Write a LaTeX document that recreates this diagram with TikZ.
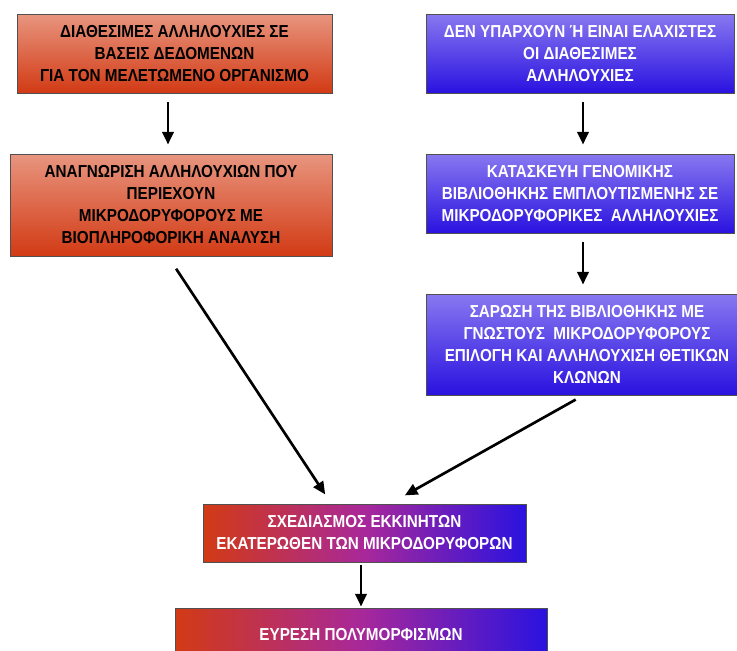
\documentclass[tikz,border=0pt]{standalone}
\usepackage{fontspec}
\setmainfont{Liberation Sans}[FakeStretch=0.88]
\usetikzlibrary{arrows.meta,calc}
\definecolor{redtop}{HTML}{E8957F}
\definecolor{redbot}{HTML}{D23A14}
\definecolor{bluetop}{HTML}{8878F0}
\definecolor{bluebot}{HTML}{2A12E0}
\definecolor{midmag}{HTML}{A8289A}
\definecolor{rimgray}{HTML}{505050}
\tikzset{
  box/.style={draw=rimgray, line width=0.7pt, align=center, inner sep=0pt,
    font=\fontsize{13}{16.5}\selectfont\bfseries},
  redbox/.style={box, top color=redtop, bottom color=redbot, text=black},
  bluebox/.style={box, top color=bluetop, bottom color=bluebot, text=white},
  mixbox/.style={box, left color=redbot, right color=bluebot, middle color=midmag, text=white},
  arr/.style={line width=2pt, -{Triangle[length=9.5pt,width=8.5pt]}}
}
\begin{document}
\begin{tikzpicture}[x=0.75pt,y=-0.75pt]
\useasboundingbox (0,0) rectangle (737,650);
\node[redbox, minimum width=315*0.75pt, minimum height=79*0.75pt] (b1) at (174.5,53.5)
  {ΔΙΑΘΕΣΙΜΕΣ ΑΛΛΗΛΟΥΧΙΕΣ ΣΕ\\ΒΑΣΕΙΣ ΔΕΔΟΜΕΝΩΝ\\ΓΙΑ ΤΟΝ ΜΕΛΕΤΩΜΕΝΟ ΟΡΓΑΝΙΣΜΟ};
\node[redbox, minimum width=322*0.75pt, minimum height=102*0.75pt] (b2) at (171,205)
  {ΑΝΑΓΝΩΡΙΣΗ ΑΛΛΗΛΟΥΧΙΩΝ ΠΟΥ\\ΠΕΡΙΕΧΟΥΝ\\ΜΙΚΡΟΔΟΡΥΦΟΡΟΥΣ ΜΕ\\ΒΙΟΠΛΗΡΟΦΟΡΙΚΗ ΑΝΑΛΥΣΗ};
\node[bluebox, minimum width=308*0.75pt, minimum height=79*0.75pt] (ba) at (580,53.5)
  {ΔΕΝ ΥΠΑΡΧΟΥΝ Ή ΕΙΝΑΙ ΕΛΑΧΙΣΤΕΣ\\ΟΙ ΔΙΑΘΕΣΙΜΕΣ\\ΑΛΛΗΛΟΥΧΙΕΣ};
\node[bluebox, minimum width=308*0.75pt, minimum height=79*0.75pt] (bb) at (580,193.5)
  {ΚΑΤΑΣΚΕΥΗ ΓΕΝΟΜΙΚΗΣ\\ΒΙΒΛΙΟΘΗΚΗΣ ΕΜΠΛΟΥΤΙΣΜΕΝΗΣ ΣΕ\\ΜΙΚΡΟΔΟΡΥΦΟΡΙΚΕΣ\ \ ΑΛΛΗΛΟΥΧΙΕΣ};
\node[bluebox, minimum width=322*0.75pt, minimum height=101*0.75pt] (bc) at (587,344.5)
  {ΣΑΡΩΣΗ ΤΗΣ ΒΙΒΛΙΟΘΗΚΗΣ ΜΕ\\ΓΝΩΣΤΟΥΣ\ \ ΜΙΚΡΟΔΟΡΥΦΟΡΟΥΣ\\ΕΠΙΛΟΓΗ ΚΑΙ ΑΛΛΗΛΟΥΧΙΣΗ ΘΕΤΙΚΩΝ\\ΚΛΩΝΩΝ};
\node[mixbox, minimum width=323*0.75pt, minimum height=58*0.75pt] (bd) at (364.5,533)
  {ΣΧΕΔΙΑΣΜΟΣ ΕΚΚΙΝΗΤΩΝ\\ΕΚΑΤΕΡΩΘΕΝ ΤΩΝ ΜΙΚΡΟΔΟΡΥΦΟΡΩΝ};
\node[mixbox, minimum width=372*0.75pt, minimum height=54*0.75pt] (be) at (361,635)
  {ΕΥΡΕΣΗ ΠΟΛΥΜΟΡΦΙΣΜΩΝ};
% vertical arrows
\draw[arr, shorten <=6.75pt, shorten >=6.75pt] ($(b1.south)+(-6.5,0)$) -- ($(b2.north)+(-3,0)$);
\draw[arr, shorten <=6.75pt, shorten >=6.75pt] ($(ba.south)+(3,0)$) -- ($(bb.north)+(3,0)$);
\draw[arr, shorten <=6.75pt, shorten >=6.75pt] ($(bb.south)+(3,0)$) -- ($(bc.north)+(-4,0)$);
\draw[arr, shorten <=2.25pt, shorten >=0.75pt] ($(bd.south)+(-3.5,0)$) -- ($(be.north)+(0,0)$);
% diagonal arrows
\draw[arr, shorten <=11pt, shorten >=8.2pt] ($(b2.south)+(-3,0)$) -- ($(bd.north)+(-33.3,0)$);
\draw[arr, shorten <=6.3pt, shorten >=12.5pt] ($(bc.south)+(-4,0)$) -- ($(bd.north)+(25.8,0)$);
\end{tikzpicture}
\end{document}
